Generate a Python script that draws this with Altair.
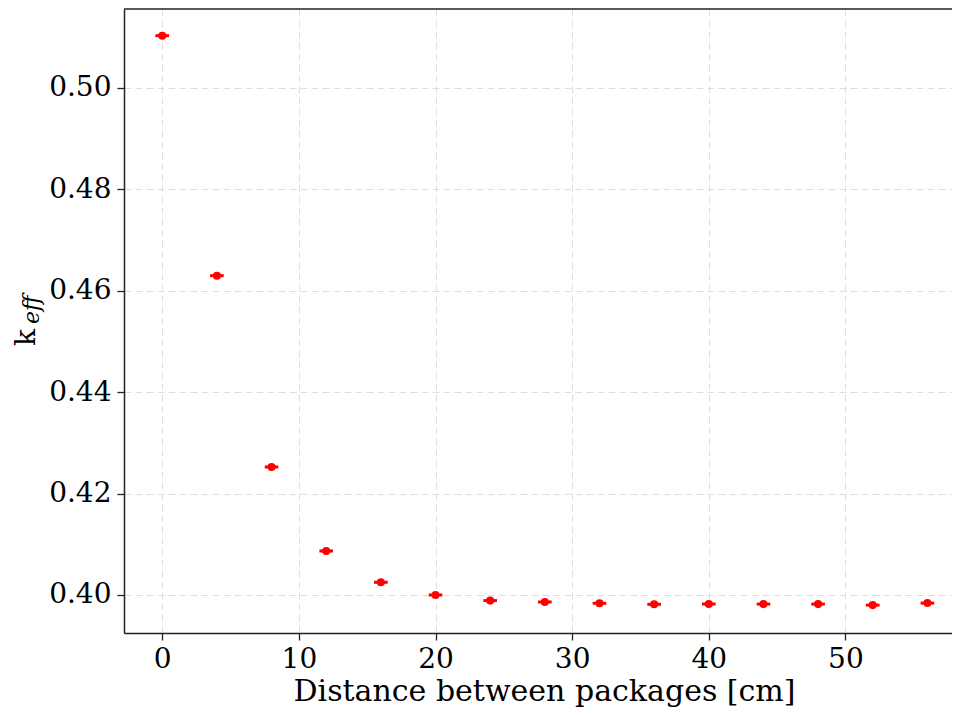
import altair as alt
import pandas as pd

# Data
distance = [0, 4, 8, 12, 16, 20, 24, 28, 32, 36, 40, 44, 48, 52, 56]
keff = [0.51032, 0.46298, 0.42525, 0.40868, 0.40250, 0.40000, 0.39889,
        0.39862, 0.39836, 0.39816, 0.39822, 0.39820, 0.39820, 0.39800, 0.39840]
xerr = [0.5] * len(distance)

x_ticks = [0, 10, 20, 30, 40, 50]
y_ticks = [0.40, 0.42, 0.44, 0.46, 0.48, 0.50]

df = pd.DataFrame({"x": distance, "y": keff, "xe": xerr})
df["xlo"] = df["x"] - df["xe"]
df["xhi"] = df["x"] + df["xe"]

FONT = "DejaVu Serif"
W, H = 828, 624

xscale = alt.Scale(domain=[-2.8, 57.8], nice=False, zero=False)
yscale = alt.Scale(domain=[0.3925, 0.51558], nice=False, zero=False)

xaxis = alt.Axis(values=x_ticks, format="d", title="Distance between packages [cm]",
                 titleFont=FONT, titleFontSize=30, titleFontWeight="normal",
                 titleColor="#000", titleBaseline="alphabetic", titleY=67, titleX=420,
                 labelFont=FONT, labelFontSize=28, labelColor="#000", labelPadding=5,
                 tickSize=7, tickWidth=1.3, tickColor="#222",
                 domainColor="#222", domainWidth=1.5,
                 grid=True, gridColor="#dedede", gridDash=[7, 4], gridWidth=1)
yaxis = alt.Axis(values=y_ticks, format=".2f", title=None,
                 labelFont=FONT, labelFontSize=28, labelColor="#000", labelPadding=6,
                 tickSize=7, tickWidth=1.3, tickColor="#222",
                 domainColor="#222", domainWidth=1.5,
                 grid=True, gridColor="#dedede", gridDash=[7, 4], gridWidth=1)

base = alt.Chart(df)

errbars = base.mark_rule(color="red", strokeWidth=3, clip=True).encode(
    x=alt.X("xlo:Q", scale=xscale, axis=xaxis),
    x2="xhi:Q",
    y=alt.Y("y:Q", scale=yscale, axis=yaxis),
)

points = base.mark_point(filled=True, size=65, color="red", opacity=1, clip=True).encode(
    x=alt.X("x:Q", scale=xscale, axis=xaxis),
    y=alt.Y("y:Q", scale=yscale, axis=yaxis),
)

top_spine = alt.Chart(pd.DataFrame({"a": [0]})).mark_rule(color="#222", strokeWidth=1.5).encode(
    x=alt.value(0), x2=alt.value(W), y=alt.value(0)
)

label_k = alt.Chart(pd.DataFrame({"t": ["k"]})).mark_text(
    text="k", font=FONT, fontSize=28, angle=270, align="left", baseline="alphabetic", color="#000"
).encode(x=alt.value(-89), y=alt.value(337))

label_eff = alt.Chart(pd.DataFrame({"t": ["eff"]})).mark_text(
    text="eff", font=FONT, fontSize=22, fontStyle="italic", angle=270, align="left",
    baseline="alphabetic", color="#000"
).encode(x=alt.value(-85), y=alt.value(315))

chart = alt.layer(errbars, points, top_spine, label_k, label_eff).properties(
    width=W, height=H,
    padding={"left": 116, "top": 1, "right": 0, "bottom": 74},
    autosize=alt.AutoSizeParams(type="none"),
    background="white",
).configure_view(stroke=None)

chart.save("out.html", embed_options={"renderer": "svg", "actions": False})
